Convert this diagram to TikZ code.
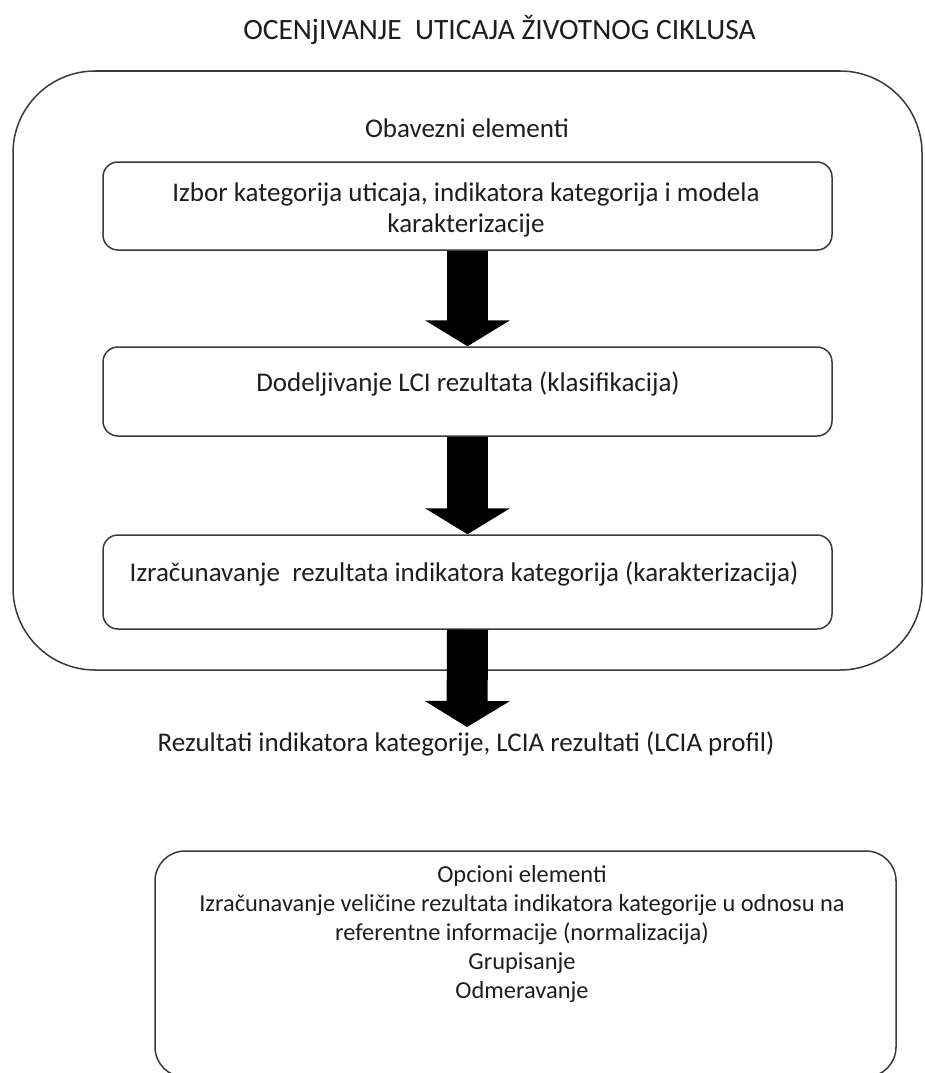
\documentclass[tikz,border=0pt]{standalone}
\usepackage{fontspec}
\setmainfont{Carlito}
\usetikzlibrary{arrows.meta}
\definecolor{ink}{HTML}{1E1E1E}
\definecolor{edge}{HTML}{3A3A3A}
\begin{document}
\begin{tikzpicture}[x=1pt,y=-1pt,
  txt/.style={text=ink,font=\fontsize{27}{31}\selectfont,inner sep=0pt,align=center},
  smalltxt/.style={txt,font=\fontsize{24.4}{29}\selectfont},
  frame/.style={draw=edge,line width=1.5pt,rounded corners=15pt,inner sep=0pt},
  blockarrow/.style={line width=41pt,-{Triangle[width=84pt,length=26pt]},draw=black}]
\useasboundingbox (0,0) rectangle (924,1073);
\clip (0,0) rectangle (924,1073);
% title
\node[txt,font=\fontsize{29.5}{32}\selectfont] (title) at (499.5,30) {OCENjIVANJE\ \ UTICAJA ŽIVOTNOG CIKLUSA};
% outer frame of the mandatory elements
\node[frame,rounded corners=82pt,minimum width=909pt,minimum height=599pt] (outer) at (467.5,370.5) {};
\node[txt] (oblig) at (467,128) {Obavezni elementi};
% three steps
\node[frame,minimum width=729pt,minimum height=88pt] (b1) at (467.5,206) {};
\node[txt] (t1) at (466,210) {Izbor kategorija uticaja, indikatora kategorija i modela\\karakterizacije};
\node[frame,minimum width=729pt,minimum height=89pt] (b2) at (467.5,391.5) {};
\node[txt] (t2) at (468,384) {Dodeljivanje LCI rezultata (klasifikacija)};
\node[frame,minimum width=729pt,minimum height=94pt] (b3) at (467.5,582) {};
\node[txt] (t3) at (464,574) {Izračunavanje\ \ rezultata indikatora kategorija (karakterizacija)};
% result
\node[txt] (res) at (466,744) {Rezultati indikatora kategorije, LCIA rezultati (LCIA profil)};
\coordinate (tip3) at (467,727);
% block arrows
\draw[blockarrow] (b1.south) -- (b2.north);
\draw[blockarrow] (b2.south) -- (b3.north);
\draw[blockarrow] (b3.south) -- (tip3);
% optional elements
\node[frame,rounded corners=30pt,minimum width=741pt,minimum height=226pt] (opt) at (525.5,964) {};
\node[smalltxt] (topt) at (522,934) {Opcioni elementi\\
Izračunavanje veličine rezultata indikatora kategorije u odnosu na\\
referentne informacije (normalizacija)\\
Grupisanje\\
Odmeravanje};
\end{tikzpicture}
\end{document}
